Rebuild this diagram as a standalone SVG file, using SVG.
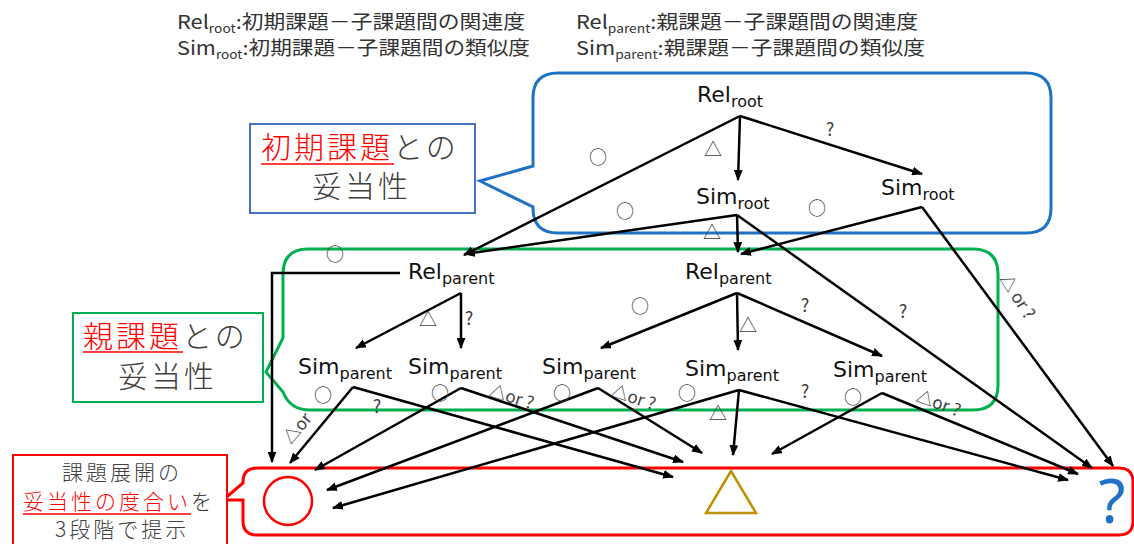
<svg xmlns="http://www.w3.org/2000/svg" width="1134" height="544" viewBox="0 0 1134 544">
<style>
.lg{font-family:"Noto Sans CJK JP","Noto Sans",sans-serif;font-size:19px;fill:#333}
.nd{font-family:"DejaVu Sans","Noto Sans",sans-serif;font-size:22px;fill:#111}
.sb{font-size:16px}
.lb{font-family:"Noto Sans CJK JP",sans-serif;font-size:18px;fill:#404040;text-anchor:middle}
.rl{font-family:"Noto Sans CJK JP",sans-serif;font-size:17px;fill:#404040}
.big{font-family:"Noto Sans CJK JP",sans-serif;font-size:30px;font-weight:300;fill:#404040;letter-spacing:3px}
.sm{font-family:"Noto Sans CJK JP",sans-serif;font-size:21px;font-weight:300;fill:#404040;letter-spacing:3px}
.red{fill:#FF0000}
.c{stroke:#000;stroke-width:2.5;fill:none;marker-end:url(#ah)}
.ul{stroke:#FF0000;stroke-width:1.5}
</style>
<defs>
<marker id="ah" viewBox="0 0 10 8" refX="9" refY="4" markerWidth="11" markerHeight="9" markerUnits="userSpaceOnUse" orient="auto"><path d="M0,0 L10,4 L0,8 z" fill="#000"/></marker>
</defs>
<rect width="1134" height="544" fill="#fff"/>

<g id="legend">
<text class="lg" x="177" y="29" textLength="348" lengthAdjust="spacingAndGlyphs">Rel<tspan font-size="12" dy="4">root</tspan><tspan dy="-4">:初期課題－子課題間の関連度</tspan></text>
<text class="lg" x="177" y="55" textLength="353" lengthAdjust="spacingAndGlyphs">Sim<tspan font-size="12" dy="4">root</tspan><tspan dy="-4">:初期課題－子課題間の類似度</tspan></text>
<text class="lg" x="576" y="29" textLength="342" lengthAdjust="spacingAndGlyphs">Rel<tspan font-size="12" dy="4">parent</tspan><tspan dy="-4">:親課題－子課題間の関連度</tspan></text>
<text class="lg" x="576" y="55" textLength="349" lengthAdjust="spacingAndGlyphs">Sim<tspan font-size="12" dy="4">parent</tspan><tspan dy="-4">:親課題－子課題間の類似度</tspan></text>
</g>

<g id="root-group">
<path d="M558,73 H1026 Q1051,73 1051,98 V208 Q1051,233 1026,233 H558 Q533,233 533,208 V207 L480,181 L533,166 V98 Q533,73 558,73 Z" fill="none" stroke="#1F72C4" stroke-width="3"/>
</g>
<g id="parent-group">
<path d="M308,249 H973 Q998,249 998,274 V385 Q998,410 973,410 H310 Q290,410 283,392 L266,372 L283,338 V274 Q283,249 308,249 Z" fill="none" stroke="#00B050" stroke-width="3"/>
</g>
<g id="result-group">
<path d="M258,468 H1119 Q1133,468 1133,482 V521 Q1133,535 1119,535 H257 Q243,535 243,521 V500 L223,500 L243,483 V482 Q243,468 258,468 Z" fill="none" stroke="#FF0000" stroke-width="3"/>
<circle cx="288" cy="501" r="24" fill="none" stroke="#FF0000" stroke-width="2.5"/>
<polygon points="731,471 706,513 756,513" fill="none" stroke="#BF9000" stroke-width="2.5"/>
<text x="1112" y="523" font-family="Noto Sans, sans-serif" font-size="62" fill="#1F72C4" text-anchor="middle">?</text>
</g>

<g id="note-root">
<rect x="250" y="124" width="225" height="89" fill="#fff" stroke="#4472C4" stroke-width="2"/>
<text class="big" x="261" y="158"><tspan class="red">初期課題</tspan>との</text>
<line class="ul" x1="261" y1="164" x2="394" y2="164"/>
<text class="big" x="312" y="197" letter-spacing="5">妥当性</text>
</g>
<g id="note-parent">
<rect x="73" y="313" width="190" height="89" fill="#fff" stroke="#00B050" stroke-width="2"/>
<text class="big" x="83" y="347"><tspan class="red">親課題</tspan>との</text>
<line class="ul" x1="83" y1="352" x2="183" y2="352"/>
<text class="big" x="118" y="387" letter-spacing="5">妥当性</text>
</g>
<g id="note-result">
<rect x="13" y="455" width="214" height="100" fill="#fff" stroke="#FF0000" stroke-width="2"/>
<text class="sm" x="62" y="480">課題展開の</text>
<text class="sm" x="23" y="509" letter-spacing="2"><tspan class="red">妥当性の度合い</tspan>を</text>
<line class="ul" x1="23" y1="514" x2="191" y2="514"/>
<text class="sm" x="55" y="537" letter-spacing="4">3段階で提示</text>
</g>

<g id="connectors">
<path class="c" d="M740,116 L738,180"/>
<path class="c" d="M740,116 L922,174"/>
<path class="c" d="M740,116 L464,255"/>
<path class="c" d="M737,215 L465,254"/>
<path class="c" d="M737,215 L738,252"/>
<path class="c" d="M737,215 L1092,468"/>
<path class="c" d="M922,207 L741,254"/>
<path class="c" d="M922,207 L1113,466"/>
<path class="c" d="M461,293 L356,348"/>
<path class="c" d="M461,293 L461,348"/>
<path class="c" d="M400,273 L272,273 L272,462"/>
<path class="c" d="M737,293 L601,348"/>
<path class="c" d="M737,293 L738,350"/>
<path class="c" d="M737,293 L882,356"/>
<path class="c" d="M353,387 L290,463"/>
<path class="c" d="M353,387 L673,477"/>
<path class="c" d="M461,388 L315,470"/>
<path class="c" d="M461,388 L683,462"/>
<path class="c" d="M598,388 L327,490"/>
<path class="c" d="M598,388 L702,453"/>
<path class="c" d="M739,390 L333,508"/>
<path class="c" d="M739,390 L733,455"/>
<path class="c" d="M739,390 L1068,480"/>
<path class="c" d="M882,393 L772,454"/>
<path class="c" d="M882,393 L1078,474"/>
</g>

<g id="edge-labels">
<text class="lb" x="598" y="164">○</text>
<text class="lb" x="713" y="156">△</text>
<text class="lb" x="830" y="136">?</text>
<text class="lb" x="625" y="218">○</text>
<text class="lb" x="712" y="239">△</text>
<text class="lb" x="903" y="318">?</text>
<text class="lb" x="817" y="215">○</text>
<text class="rl" transform="translate(999,279) rotate(57)">△ or ?</text>
<text class="lb" x="335" y="261">○</text>
<text class="lb" x="428" y="326">△</text>
<text class="lb" x="469" y="325">?</text>
<text class="lb" x="640" y="313">○</text>
<text class="lb" x="748" y="332">△</text>
<text class="lb" x="805" y="312">?</text>
<text class="lb" x="323" y="402">○</text>
<text class="rl" transform="translate(291,445) rotate(-50)">△or</text>
<text class="lb" x="377" y="413">?</text>
<text class="lb" x="440" y="400">○</text>
<text class="rl" transform="translate(488,396) rotate(17)">△or ?</text>
<text class="lb" x="562" y="400">○</text>
<text class="rl" transform="translate(610,396) rotate(18)">△or ?</text>
<text class="lb" x="687" y="400">○</text>
<text class="lb" x="718" y="420">△</text>
<text class="lb" x="805" y="398">?</text>
<text class="lb" x="853" y="404">○</text>
<text class="rl" transform="translate(915,401) rotate(20)">△or ?</text>
</g>

<g id="rel-root"><text class="nd" x="697" y="102">Rel<tspan class="sb" dy="5">root</tspan></text></g>
<g id="sim-root-1"><text class="nd" x="696" y="204">Sim<tspan class="sb" dy="5">root</tspan></text></g>
<g id="sim-root-2"><text class="nd" x="881" y="195">Sim<tspan class="sb" dy="5">root</tspan></text></g>
<g id="rel-parent-1"><text class="nd" x="408" y="279">Rel<tspan class="sb" dy="5">parent</tspan></text></g>
<g id="rel-parent-2"><text class="nd" x="685" y="279">Rel<tspan class="sb" dy="5">parent</tspan></text></g>
<g id="sim-parent-1"><text class="nd" x="298" y="374">Sim<tspan class="sb" dy="5">parent</tspan></text></g>
<g id="sim-parent-2"><text class="nd" x="408" y="374">Sim<tspan class="sb" dy="5">parent</tspan></text></g>
<g id="sim-parent-3"><text class="nd" x="542" y="374">Sim<tspan class="sb" dy="5">parent</tspan></text></g>
<g id="sim-parent-4"><text class="nd" x="685" y="376">Sim<tspan class="sb" dy="5">parent</tspan></text></g>
<g id="sim-parent-5"><text class="nd" x="833" y="377">Sim<tspan class="sb" dy="5">parent</tspan></text></g>
</svg>
